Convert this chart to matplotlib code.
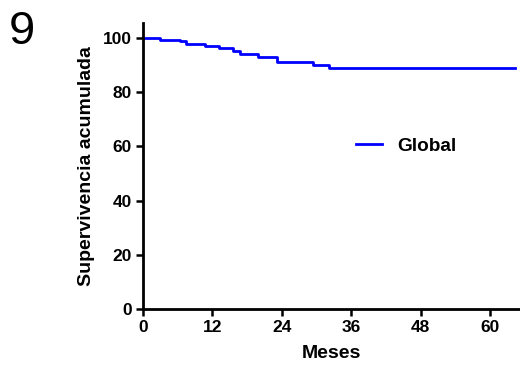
import matplotlib
matplotlib.use("Agg")
import matplotlib.pyplot as plt

plt.rcParams["font.family"] = ["Liberation Sans", "DejaVu Sans"]
plt.rcParams["font.weight"] = "bold"

# Kaplan-Meier steps (months, % survival)
months = [0, 2.9, 6.4, 7.4, 10.8, 13.1, 15.5, 16.7, 19.8, 23.2, 29.4, 32.1, 64.4]
survival = [100, 99.3, 98.9, 97.8, 96.9, 96.1, 95.2, 94.0, 93.0, 91.3, 90.0, 88.8, 88.8]
xticks = [0, 12, 24, 36, 48, 60]
yticks = [0, 20, 40, 60, 80, 100]

fig = plt.figure(figsize=(5.2, 3.65), dpi=100)
ax = fig.add_axes([0.275, 0.153, 0.723, 0.784])

ax.step(months, survival, where="post", color="#0000ff", lw=2, label="Global")

ax.set_xlim(0, 65)
ax.set_ylim(0, 105.5)
ax.set_xticks(xticks)
ax.set_yticks(yticks)
ax.tick_params(labelsize=12.5, width=1.8, length=5, direction="out", pad=3)
for lab in ax.get_xticklabels() + ax.get_yticklabels():
    lab.set_fontweight("bold")
for side in ("top", "right"):
    ax.spines[side].set_visible(False)
for side in ("left", "bottom"):
    ax.spines[side].set_linewidth(2)

ax.set_xlabel("Meses", fontsize=14, fontweight="bold", labelpad=7)
ax.set_ylabel("Supervivencia acumulada", fontsize=14, fontweight="bold", labelpad=6)

ax.legend(loc="center left", bbox_to_anchor=(0.566, 0.57), frameon=False,
          fontsize=13.7, handlelength=1.37, handletextpad=0.8,
          borderpad=0, borderaxespad=0)

fig.text(0.016, 1 - 44 / 365, "9", fontsize=34, va="baseline", ha="left",
         fontweight="normal")

fig.savefig("out.png", dpi=100)
